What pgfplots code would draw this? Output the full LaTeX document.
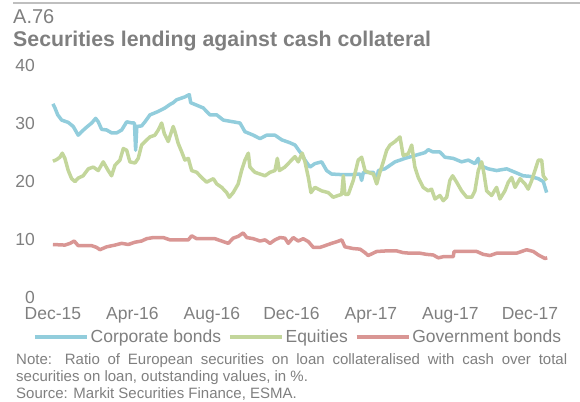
\documentclass[border=0pt]{standalone}
\usepackage{fontspec}
\setmainfont{Liberation Sans}
\usepackage{pgfplots}
\pgfplotsset{compat=1.18}
\definecolor{corp}{RGB}{146,205,220}
\definecolor{equ}{RGB}{195,214,155}
\definecolor{gov}{RGB}{217,150,148}
\definecolor{txtgray}{RGB}{127,127,127}
\definecolor{rulegray}{RGB}{191,191,191}

% months after Dec-15, value in %
\pgfplotstableread{
x y
0 33.3
0.10 32.6
0.24 31.4
0.44 30.5
0.77 30.1
1.02 29.4
1.27 27.9
1.44 28.5
1.70 29.3
1.95 30.0
2.15 30.8
2.28 30.2
2.45 28.9
2.70 28.8
2.95 28.3
3.21 28.3
3.46 28.8
3.71 30.2
3.99 30.0
4.10 30.0
4.16 25.3
4.22 29.4
4.46 29.5
4.63 30.2
4.88 31.4
5.30 32.0
5.64 32.6
5.89 33.2
6.05 33.5
6.22 34.0
6.64 34.5
6.86 34.9
6.93 33.5
7.14 33.2
7.56 32.6
7.90 31.4
8.24 31.4
8.57 30.5
9.07 30.2
9.41 30.0
9.66 28.5
10.08 27.9
10.42 27.3
10.75 27.9
11.17 27.9
11.51 27.1
11.92 26.6
12.18 26.2
12.43 25.0
12.51 24.7
12.68 23.6
12.93 22.4
13.18 23.0
13.52 23.3
13.77 21.8
14.02 21.2
14.53 21.1
15.03 21.1
15.45 21.2
15.53 20.1
15.62 21.5
16.12 21.5
16.29 20.1
16.37 21.8
16.70 22.1
17.21 23.3
17.71 23.9
18.21 24.4
18.72 24.9
18.88 25.4
19.13 25.0
19.47 25.0
19.72 24.1
20.14 23.9
20.56 23.3
20.90 23.6
21.23 23.0
21.40 23.9
21.48 22.7
21.90 22.1
22.32 21.8
22.83 22.1
23.25 21.5
23.66 20.9
24.00 20.8
24.42 20.4
24.67 19.9
24.84 18.0
}\corpdata

\pgfplotstableread{
x y
0 23.4
0.19 23.7
0.35 24.1
0.47 24.8
0.60 23.9
0.77 21.8
0.94 20.4
1.11 19.9
1.27 20.5
1.52 20.9
1.78 22.1
2.03 22.4
2.28 21.8
2.53 23.3
2.78 21.8
2.95 20.9
3.12 22.7
3.37 23.6
3.54 25.6
3.71 25.3
3.87 23.3
4.13 23.1
4.29 23.9
4.46 26.2
4.63 26.8
4.88 27.6
5.13 27.9
5.30 28.8
5.47 30.0
5.60 28.2
5.80 26.8
6.05 29.4
6.14 28.5
6.30 26.5
6.48 25.0
6.64 23.6
6.81 23.9
6.98 21.8
7.23 21.5
7.48 20.6
7.73 19.8
8.07 20.4
8.24 19.5
8.49 18.9
8.74 18.0
8.87 17.2
9.07 18.0
9.32 19.5
9.49 21.8
9.66 23.6
9.83 24.8
9.91 22.4
10.16 21.5
10.42 21.2
10.67 20.9
10.92 21.5
11.17 21.8
11.29 23.9
11.39 21.8
11.67 22.4
11.92 23.3
12.18 24.2
12.34 23.3
12.54 24.8
12.68 23.3
12.85 20.6
12.98 18.0
13.18 18.9
13.52 18.3
13.85 18.0
14.10 17.2
14.35 17.5
14.53 17.7
14.61 20.9
14.69 17.7
14.86 17.7
15.11 20.1
15.36 23.6
15.53 24.1
15.70 21.8
15.86 21.5
16.12 21.2
16.29 19.5
16.45 21.5
16.62 23.3
16.79 25.3
16.96 26.2
17.21 26.8
17.46 27.6
17.62 24.4
17.88 24.7
18.05 26.2
18.21 22.4
18.38 20.6
18.63 18.9
18.88 18.3
19.05 18.6
19.22 16.9
19.47 17.5
19.64 16.6
19.81 17.2
19.97 20.1
20.11 20.9
20.31 19.8
20.56 18.3
20.82 17.2
21.07 17.2
21.23 18.3
21.40 21.8
21.57 23.3
21.69 21.2
21.82 18.3
22.07 17.5
22.32 18.9
22.49 16.9
22.74 18.3
22.91 19.8
23.08 20.6
23.25 18.9
23.50 20.4
23.75 19.5
23.91 18.6
24.09 20.1
24.25 21.8
24.42 23.6
24.59 23.6
24.67 20.9
24.84 20.1
}\equdata

\pgfplotstableread{
x y
0 9.05
0.60 8.95
0.86 9.25
1.07 9.65
1.27 8.85
1.61 8.85
1.95 8.85
2.20 8.55
2.36 8.15
2.70 8.65
3.12 8.95
3.46 9.25
3.79 9.05
4.13 9.45
4.46 9.65
4.71 10.05
5.05 10.25
5.55 10.25
5.89 9.85
6.30 9.85
6.81 9.85
6.98 10.55
7.23 10.05
7.65 10.05
8.15 10.05
8.49 9.65
8.82 9.25
9.07 10.15
9.32 10.45
9.57 11.05
9.75 10.25
10.08 10.05
10.42 9.65
10.67 9.85
10.92 9.25
11.17 9.85
11.42 10.25
11.67 10.15
11.84 9.25
12.09 10.25
12.34 9.65
12.59 10.05
12.85 9.55
13.10 8.55
13.43 8.55
13.69 8.85
14.02 9.25
14.30 9.55
14.53 9.85
14.69 8.65
15.11 8.35
15.45 8.25
15.70 7.65
15.86 7.15
16.29 7.85
16.79 7.95
17.29 7.95
17.62 7.65
17.96 7.55
18.47 7.55
18.80 7.35
19.13 7.25
19.39 6.75
19.64 6.95
20.14 6.95
20.18 7.85
20.82 7.85
21.32 7.85
21.65 7.35
21.99 7.15
22.32 7.55
22.83 7.55
23.32 7.55
23.58 7.85
23.83 8.15
24.17 7.85
24.42 7.25
24.75 6.65
24.87 6.75
}\govdata

\begin{document}
\begin{tikzpicture}[x=1pt,y=1pt]
\path[use as bounding box] (0,0) rectangle (580,401);
\draw[rulegray, line width=2pt] (13,398.3) -- (580,398.3);
\node[anchor=base west, inner sep=0, text=txtgray, font=\fontsize{20}{24}\selectfont] at (13,377.7) {A.76};
\node[anchor=base west, inner sep=0, text=txtgray, font=\bfseries\fontsize{21.3}{25}\selectfont] at (13,354.3) {Securities lending against cash collateral};

\begin{axis}[
    at={(45pt,104pt)}, anchor=south west,
    scale only axis,
    width=510pt, height=232pt,
    xmin=-0.4, xmax=25.26,
    ymin=0, ymax=40,
    axis line style={draw=none},
    major tick length=0pt,
    xtick={0,4,...,24},
    xticklabels={Dec-15,Apr-16,Aug-16,Dec-16,Apr-17,Aug-17,Dec-17},
    ytick={0,10,20,30,40},
    /pgf/number format/assume math mode=true,
    tick label style={font=\fontsize{17.5}{20}\selectfont, text=txtgray, inner sep=0pt},
    yticklabel style={xshift=-10pt},
    xticklabel style={yshift=-10pt},
    legend columns=3,
    legend style={at={(axis description cs:-0.0235,-0.172)}, anchor=west,
        draw=none, fill=none, inner sep=0pt,
        font=\fontsize{17.5}{20}\selectfont, text=txtgray,
        /tikz/every even column/.append style={column sep=5pt}},
    legend image code/.code={\draw[#1, line width=3.5pt] (0pt,0pt) -- (52pt,0pt);},
    every axis plot/.append style={line width=3.5pt, line join=round},
]
\addplot[corp] table {\corpdata};
\addplot[equ] table {\equdata};
\addplot[gov] table {\govdata};
\legend{Corporate bonds, Equities, Government bonds}
\end{axis}

\node[anchor=base west, inner sep=0, text=txtgray, align=left,
      font=\fontsize{15}{16.5}\selectfont] at (16,3)
  {\makebox[551pt][s]{Note: Ratio of European securities on loan collateralised with cash over total}\\
   securities on loan, outstanding values, in \%.\\
   Source: Markit Securities Finance, ESMA.};
\end{tikzpicture}
\end{document}
